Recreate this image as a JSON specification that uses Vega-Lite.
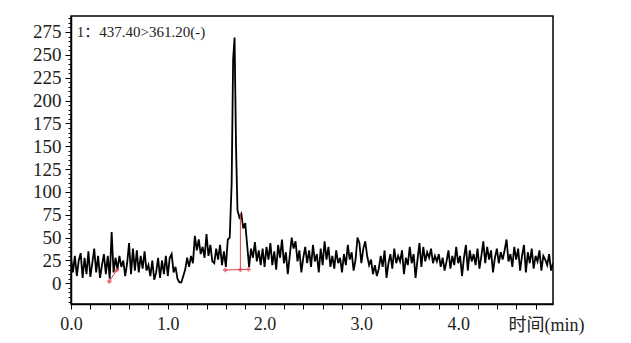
{
  "$schema": "https://vega.github.io/schema/vega-lite/v6.json",
  "autosize": "none",
  "width": 482,
  "height": 288,
  "padding": {"left": 71, "top": 16, "right": 78, "bottom": 39},
  "background": "white",
  "config": {
    "view": {"stroke": "black", "strokeWidth": 1.5},
    "axis": {"domainColor": "black", "domainWidth": 1.5, "tickColor": "black", "labelColor": "#222", "labelFont": "Liberation Serif", "grid": false}
  },
  "datasets": {
    "trace": [
      {"t":0.00,"v":28},{"t":0.02,"v":12},{"t":0.04,"v":30},{"t":0.06,"v":8},{"t":0.08,"v":25},{"t":0.10,"v":33},{"t":0.12,"v":6},{"t":0.14,"v":28},{"t":0.16,"v":10},{"t":0.18,"v":35},
      {"t":0.20,"v":7},{"t":0.22,"v":22},{"t":0.24,"v":38},{"t":0.26,"v":12},{"t":0.28,"v":30},{"t":0.30,"v":6},{"t":0.32,"v":20},{"t":0.34,"v":32},{"t":0.36,"v":10},{"t":0.38,"v":30},
      {"t":0.40,"v":5},{"t":0.42,"v":56},{"t":0.44,"v":12},{"t":0.46,"v":28},{"t":0.48,"v":15},{"t":0.50,"v":30},{"t":0.52,"v":18},{"t":0.54,"v":25},{"t":0.56,"v":8},{"t":0.58,"v":22},
      {"t":0.60,"v":44},{"t":0.62,"v":10},{"t":0.64,"v":38},{"t":0.66,"v":14},{"t":0.68,"v":36},{"t":0.70,"v":12},{"t":0.72,"v":30},{"t":0.74,"v":16},{"t":0.76,"v":35},{"t":0.78,"v":14},
      {"t":0.80,"v":20},{"t":0.82,"v":8},{"t":0.84,"v":25},{"t":0.86,"v":4},{"t":0.88,"v":12},{"t":0.90,"v":28},{"t":0.92,"v":6},{"t":0.94,"v":25},{"t":0.96,"v":10},{"t":0.98,"v":30},
      {"t":1.00,"v":8},{"t":1.02,"v":28},{"t":1.04,"v":32},{"t":1.06,"v":12},{"t":1.08,"v":18},{"t":1.10,"v":5},{"t":1.12,"v":1},{"t":1.14,"v":1},{"t":1.16,"v":8},{"t":1.18,"v":15},
      {"t":1.20,"v":28},{"t":1.22,"v":18},{"t":1.24,"v":30},{"t":1.26,"v":22},{"t":1.28,"v":52},{"t":1.30,"v":36},{"t":1.32,"v":48},{"t":1.34,"v":32},{"t":1.36,"v":40},{"t":1.38,"v":28},
      {"t":1.40,"v":54},{"t":1.42,"v":30},{"t":1.44,"v":42},{"t":1.46,"v":24},{"t":1.48,"v":22},{"t":1.50,"v":38},{"t":1.52,"v":26},{"t":1.54,"v":42},{"t":1.56,"v":20},{"t":1.58,"v":35},
      {"t":1.60,"v":18},{"t":1.62,"v":48},{"t":1.64,"v":50},{"t":1.66,"v":110},{"t":1.675,"v":245},{"t":1.69,"v":269},{"t":1.705,"v":150},{"t":1.72,"v":80},{"t":1.74,"v":72},{"t":1.76,"v":76},
      {"t":1.78,"v":60},{"t":1.80,"v":66},{"t":1.82,"v":42},{"t":1.84,"v":18},{"t":1.86,"v":38},{"t":1.88,"v":28},{"t":1.90,"v":45},{"t":1.92,"v":24},{"t":1.94,"v":36},{"t":1.96,"v":20},
      {"t":1.98,"v":38},{"t":2.00,"v":18},{"t":2.02,"v":40},{"t":2.04,"v":26},{"t":2.06,"v":44},{"t":2.08,"v":20},{"t":2.10,"v":35},{"t":2.12,"v":15},{"t":2.14,"v":42},{"t":2.16,"v":28},
      {"t":2.18,"v":48},{"t":2.20,"v":22},{"t":2.22,"v":34},{"t":2.24,"v":10},{"t":2.26,"v":30},{"t":2.28,"v":50},{"t":2.30,"v":38},{"t":2.32,"v":46},{"t":2.34,"v":24},{"t":2.36,"v":36},
      {"t":2.38,"v":12},{"t":2.40,"v":28},{"t":2.42,"v":40},{"t":2.44,"v":22},{"t":2.46,"v":36},{"t":2.48,"v":18},{"t":2.50,"v":42},{"t":2.52,"v":24},{"t":2.54,"v":32},{"t":2.56,"v":12},
      {"t":2.58,"v":38},{"t":2.60,"v":20},{"t":2.62,"v":46},{"t":2.64,"v":26},{"t":2.66,"v":40},{"t":2.68,"v":18},{"t":2.70,"v":30},{"t":2.72,"v":16},{"t":2.74,"v":36},{"t":2.76,"v":22},
      {"t":2.78,"v":28},{"t":2.80,"v":12},{"t":2.82,"v":32},{"t":2.84,"v":20},{"t":2.86,"v":42},{"t":2.88,"v":26},{"t":2.90,"v":34},{"t":2.92,"v":14},{"t":2.94,"v":26},{"t":2.96,"v":50},
      {"t":2.98,"v":44},{"t":3.00,"v":22},{"t":3.02,"v":38},{"t":3.04,"v":46},{"t":3.06,"v":30},{"t":3.08,"v":20},{"t":3.10,"v":26},{"t":3.12,"v":10},{"t":3.14,"v":20},{"t":3.16,"v":8},
      {"t":3.18,"v":16},{"t":3.20,"v":30},{"t":3.22,"v":18},{"t":3.24,"v":36},{"t":3.26,"v":6},{"t":3.28,"v":22},{"t":3.30,"v":32},{"t":3.32,"v":16},{"t":3.34,"v":38},{"t":3.36,"v":22},
      {"t":3.38,"v":30},{"t":3.40,"v":24},{"t":3.42,"v":36},{"t":3.44,"v":10},{"t":3.46,"v":28},{"t":3.48,"v":20},{"t":3.50,"v":40},{"t":3.52,"v":22},{"t":3.54,"v":32},{"t":3.56,"v":6},
      {"t":3.58,"v":26},{"t":3.60,"v":44},{"t":3.62,"v":18},{"t":3.64,"v":40},{"t":3.66,"v":24},{"t":3.68,"v":34},{"t":3.70,"v":28},{"t":3.72,"v":38},{"t":3.74,"v":22},{"t":3.76,"v":30},
      {"t":3.78,"v":24},{"t":3.80,"v":32},{"t":3.82,"v":18},{"t":3.84,"v":28},{"t":3.86,"v":14},{"t":3.88,"v":24},{"t":3.90,"v":36},{"t":3.92,"v":16},{"t":3.94,"v":30},{"t":3.96,"v":20},
      {"t":3.98,"v":40},{"t":4.00,"v":22},{"t":4.02,"v":30},{"t":4.04,"v":8},{"t":4.06,"v":28},{"t":4.08,"v":42},{"t":4.10,"v":14},{"t":4.12,"v":36},{"t":4.14,"v":24},{"t":4.16,"v":32},
      {"t":4.18,"v":20},{"t":4.20,"v":38},{"t":4.22,"v":16},{"t":4.24,"v":30},{"t":4.26,"v":46},{"t":4.28,"v":22},{"t":4.30,"v":40},{"t":4.32,"v":26},{"t":4.34,"v":36},{"t":4.36,"v":12},
      {"t":4.38,"v":28},{"t":4.40,"v":38},{"t":4.42,"v":22},{"t":4.44,"v":34},{"t":4.46,"v":26},{"t":4.48,"v":36},{"t":4.50,"v":48},{"t":4.52,"v":24},{"t":4.54,"v":32},{"t":4.56,"v":18},
      {"t":4.58,"v":40},{"t":4.60,"v":26},{"t":4.62,"v":38},{"t":4.64,"v":14},{"t":4.66,"v":30},{"t":4.68,"v":42},{"t":4.70,"v":12},{"t":4.72,"v":34},{"t":4.74,"v":22},{"t":4.76,"v":38},
      {"t":4.78,"v":16},{"t":4.80,"v":30},{"t":4.82,"v":24},{"t":4.84,"v":36},{"t":4.86,"v":14},{"t":4.88,"v":30},{"t":4.90,"v":26},{"t":4.92,"v":20},{"t":4.94,"v":32},{"t":4.96,"v":14},
      {"t":4.98,"v":22}
    ],
    "segs": [
      {"t":0.396,"v":2,"t2":0.473,"v2":14.6},
      {"t":1.594,"v":14.6,"t2":1.835,"v2":15.3},
      {"t":1.75,"v":14.9,"t2":1.75,"v2":77}
    ],
    "pts": [
      {"t":0.396,"v":2},{"t":0.473,"v":14.6},{"t":1.594,"v":14.6},{"t":1.75,"v":14.9},{"t":1.835,"v":15.3}
    ],
    "ann": [{"t":0.06,"v":275,"label":"1：437.40>361.20(-)"}]
  },
  "layer": [
    {
      "data": {"name": "trace"},
      "mark": {"type": "line", "color": "black", "strokeWidth": 1.8, "clip": true},
      "encoding": {
        "x": {
          "field": "t", "type": "quantitative",
          "scale": {"domain": [0, 4.98], "nice": false, "zero": false},
          "axis": {
            "values": [0,0.2,0.4,0.6,0.8,1,1.2,1.4,1.6,1.8,2,2.2,2.4,2.6,2.8,3,3.2,3.4,3.6,3.8,4,4.2,4.4,4.6,4.8],
            "tickCount": 500,
            "labelExpr": "abs(datum.value - round(datum.value)) < 0.001 ? format(datum.value, '.1f') : ''",
            "labelOverlap": false, "labelFlush": false, "labelBound": false,
            "labelFont": "Liberation Serif",
            "tickSize": 5, "tickWidth": 1, "labelPadding": 6, "labelFontSize": 18,
            "title": "时间(min)", "titleFont": "Liberation Serif, Noto Sans CJK SC", "titleFontSize": 18, "titleFontWeight": "normal", "titleColor": "#222",
            "titleX": 475, "titleY": 21, "titleAlign": "center", "titleBaseline": "middle"
          }
        },
        "y": {
          "field": "v", "type": "quantitative",
          "scale": {"domain": [-22.6, 292.5], "nice": false, "zero": false},
          "axis": {
            "values": [-20,-15,-10,-5,0,5,10,15,20,25,30,35,40,45,50,55,60,65,70,75,80,85,90,95,100,105,110,115,120,125,130,135,140,145,150,155,160,165,170,175,180,185,190,195,200,205,210,215,220,225,230,235,240,245,250,255,260,265,270,275,280,285,290],
            "tickCount": 500,
            "labelExpr": "datum.value % 25 === 0 && datum.value >= 0 ? format(datum.value, 'd') : ''",
            "labelOverlap": false, "labelFlush": false, "labelBound": false,
            "labelFont": "Liberation Serif",
            "tickSize": {"condition": {"test": "datum.value % 25 === 0", "value": 6}, "value": 3},
            "tickWidth": 1, "labelPadding": 4, "labelFontSize": 19, "title": null
          }
        }
      }
    },
    {
      "data": {"name": "segs"},
      "mark": {"type": "rule", "color": "#e0404c", "strokeWidth": 1},
      "encoding": {
        "x": {"field": "t", "type": "quantitative"},
        "y": {"field": "v", "type": "quantitative"},
        "x2": {"field": "t2"},
        "y2": {"field": "v2"}
      }
    },
    {
      "data": {"name": "pts"},
      "mark": {"type": "point", "shape": "cross", "color": "#e0404c", "filled": true, "size": 20},
      "encoding": {
        "x": {"field": "t", "type": "quantitative"},
        "y": {"field": "v", "type": "quantitative"}
      }
    },
    {
      "data": {"name": "ann"},
      "mark": {"type": "text", "align": "left", "baseline": "middle", "font": "Liberation Serif, Noto Sans CJK SC", "fontSize": 15, "color": "#222"},
      "encoding": {
        "x": {"field": "t", "type": "quantitative"},
        "y": {"field": "v", "type": "quantitative"},
        "text": {"field": "label"}
      }
    }
  ]
}
